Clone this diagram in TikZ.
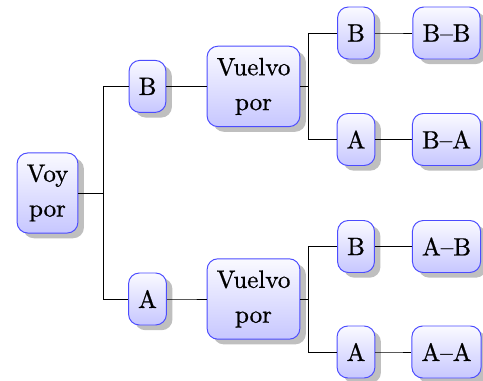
\documentclass[tikz,border=0pt]{standalone}
\usetikzlibrary{shadows}
\font\nodefont="[lmroman10-regular]:embolden=0.8" at 17.8pt

\begin{document}
\begin{tikzpicture}
[boxDecorate/.style={shape=rectangle,rounded corners=0.27cm,draw=blue!70,line width=0.7pt,%
  top color=blue!2,bottom color=blue!22,%
  drop shadow={shadow xshift=0.15cm,shadow yshift=-0.13cm,fill=black!25,opacity=1},%
  font={\nodefont\baselineskip=24.8pt},align=center,%
  inner xsep=6.8pt,inner ysep=8.3pt,minimum height=1.3cm},%
  forkDecorate/.style={-,line width=0.6pt,%
  to path={(\tikztostart.east) -- ++(#1,0) |- (\tikztotarget.west)}}]
\useasboundingbox (0,0) rectangle (12.075,9.5);
%% nodes
\foreach \nodename/\x/\y/\nodetext in {voy/1.1875/4.675/Voy\\por,
  b/3.6875/7.34/B, a/3.6875/2.025/A,
  vuelvoB/6.3375/7.34/Vuelvo\\por, vuelvoA/6.3375/2.025/Vuelvo\\por,
  bB/8.9/8.675/B, bA/8.9/6.0125/A, aB/8.9/3.3375/B, aA/8.9/0.7/A,
  resBB/11.1625/8.675/B–B, resBA/11.1625/6.0125/B–A,
  resAB/11.1625/3.3375/A–B, resAA/11.1625/0.7/A–A}
{
  \node (\nodename) at (\x,\y) [boxDecorate] {\nodetext};
}
%% connectors
\path
\foreach \startnode/\endnode/\len in {voy/b/0.625, voy/a/0.625,
  b/vuelvoB/0.5, a/vuelvoA/0.5,
  vuelvoB/bB/0.2, vuelvoB/bA/0.2, vuelvoA/aB/0.2, vuelvoA/aA/0.2,
  bB/resBB/0.5, bA/resBA/0.5, aB/resAB/0.5, aA/resAA/0.5}
{
  (\startnode) edge[forkDecorate=\len] (\endnode)
};
\end{tikzpicture}
\end{document}
